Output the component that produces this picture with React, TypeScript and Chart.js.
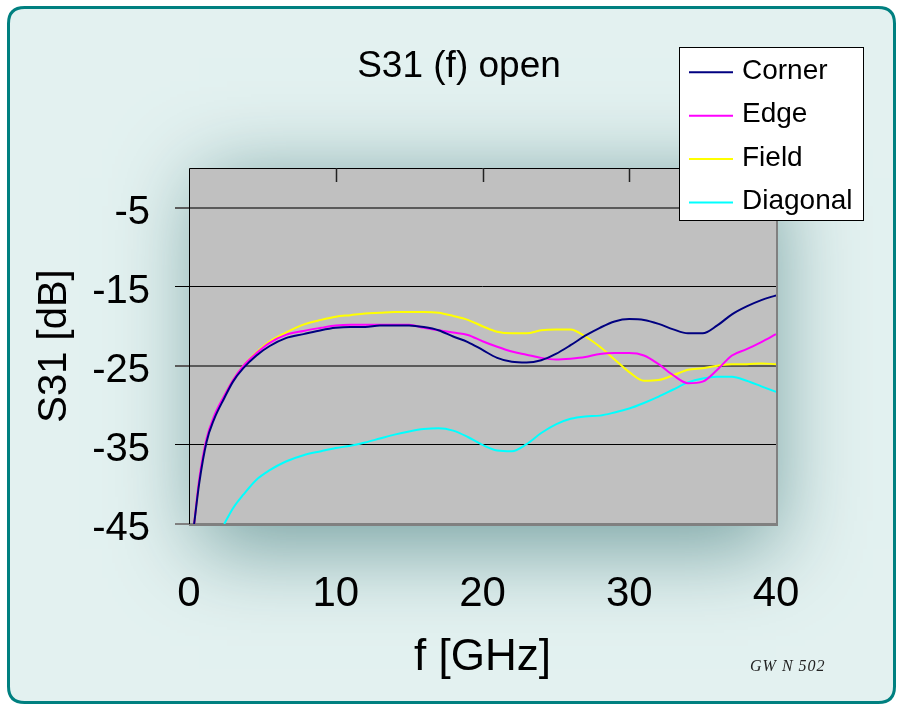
import React, { useEffect, useRef } from 'react';
import { Chart, registerables } from 'chart.js';

Chart.register(...registerables);

// ---- data ----
const freqs = [0.35, 0.7, 1.2, 1.7, 2.4, 3, 3.7, 4.6, 5.5, 6.6, 7.8, 9, 10, 11, 12, 13, 14, 15, 16, 17, 18, 19, 20, 21, 22, 23, 24, 25, 26, 27, 28, 29, 30, 31, 32, 33, 34, 35, 36, 37, 38, 39, 40];

const corner = [-45, -39.8, -34.6, -31.8, -29.1, -27.0, -25.3, -23.7, -22.5, -21.5, -21.0, -20.5,
  -20.2, -20.1, -20.1, -19.9, -19.9, -19.9, -20.1, -20.5, -21.3, -22.0, -23.0, -24.0, -24.5, -24.6, -24.3, -23.5, -22.4, -21.2, -20.2, -19.4, -19.1, -19.2, -19.7, -20.4, -20.9, -20.9, -19.9, -18.5, -17.5, -16.7, -16.1];

const edge = [-45, -39.3, -34.2, -31.4, -28.8, -26.8, -25.0, -23.4, -22.1, -21.1, -20.6, -20.2,
  -19.9, -19.8, -19.8, -19.8, -19.8, -19.8, -20.2, -20.5, -20.8, -21.1, -21.9, -22.6, -23.2, -23.6, -24.0, -24.2, -24.1, -23.9, -23.5, -23.4, -23.4, -23.7, -24.8, -26.2, -27.2, -27.0, -25.5, -23.7, -22.9, -22.0, -21.0];

const field = [-45, -39.5, -34.3, -31.5, -28.8, -26.8, -25.0, -23.3, -21.9, -20.8, -19.8, -19.2,
  -18.8, -18.6, -18.4, -18.3, -18.2, -18.2, -18.2, -18.3, -18.7, -19.2, -20.0, -20.7, -20.9, -20.9, -20.5, -20.4, -20.4, -21.3, -22.6, -24.2, -25.8, -26.9, -26.8, -26.2, -25.5, -25.3, -25.0, -24.8, -24.8, -24.7, -24.8];

const diagonal = [null, null, null, null, -45, -43.0, -41.3, -39.4, -38.2, -37.1, -36.3, -35.8,
  -35.4, -35.1, -34.7, -34.2, -33.7, -33.3, -33.0, -32.9, -33.2, -34.0, -35.0, -35.7, -35.8, -34.9, -33.5, -32.4, -31.7, -31.4, -31.3, -30.9, -30.4, -29.7, -28.9, -28.0, -27.1, -26.6, -26.4, -26.4, -26.9, -27.6, -28.3];

const seriesLabels = ['Corner', 'Edge', 'Field', 'Diagonal'];
const seriesColors = ['#000080', '#FF00FF', '#FFFF00', '#00FFFF'];
const seriesValues = [corner, edge, field, diagonal];

const yTicks = [-45, -35, -25, -15, -5];
const xTicks = [0, 10, 20, 30, 40];
const topTickMarks = [10, 20, 30];

const chartTitle = 'S31 (f) open';
const xTitle = 'f [GHz]';
const yTitle = 'S31 [dB]';
const footnote = 'GW N 502';

const SANS = '"Liberation Sans", Arial, sans-serif';

function roundRectPath(c: CanvasRenderingContext2D, x: number, y: number, w: number, h: number, r: number) {
  c.beginPath();
  c.moveTo(x + r, y);
  c.lineTo(x + w - r, y);
  c.quadraticCurveTo(x + w, y, x + w, y + r);
  c.lineTo(x + w, y + h - r);
  c.quadraticCurveTo(x + w, y + h, x + w - r, y + h);
  c.lineTo(x + r, y + h);
  c.quadraticCurveTo(x, y + h, x, y + h - r);
  c.lineTo(x, y + r);
  c.quadraticCurveTo(x, y, x + r, y);
  c.closePath();
}

const decorPlugin = {
  id: 'decor',
  beforeDraw(chart: any) {
    const c: CanvasRenderingContext2D = chart.ctx;
    const { left, top, right, bottom } = chart.chartArea;
    c.save();
    c.fillStyle = '#ffffff';
    c.fillRect(0, 0, chart.width, chart.height);
    roundRectPath(c, 8.5, 7.5, 886, 695, 16);
    c.fillStyle = '#e3f1f0';
    c.fill();
    c.clip();
    // soft glow behind the plot area (shadow only, shape drawn off-canvas)
    const off = 5000;
    c.shadowColor = 'rgb(120,162,162)';
    c.shadowBlur = 80;
    c.shadowOffsetX = off;
    c.shadowOffsetY = 0;
    c.fillStyle = 'rgb(120,162,162)';
    c.fillRect(left + 10 - off, top + 10, right - left - 10, bottom - top + 15);
    c.restore();

    c.save();
    roundRectPath(c, 8.5, 7.5, 886, 695, 16);
    c.strokeStyle = '#008080';
    c.lineWidth = 3;
    c.stroke();
    c.restore();

    c.save();
    c.fillStyle = '#c0c0c0';
    c.fillRect(left, top, right - left, bottom - top);
    c.restore();
  },
  afterDatasetsDraw(chart: any) {
    const c: CanvasRenderingContext2D = chart.ctx;
    const { left, top, right, bottom } = chart.chartArea;
    const xs = chart.scales.x;
    c.save();
    c.strokeStyle = '#808080';
    c.lineWidth = 2;
    c.beginPath();
    c.moveTo(right + 1, top);
    c.lineTo(right + 1, bottom + 1);
    c.lineTo(left, bottom + 1);
    c.stroke();
    c.strokeStyle = '#000000';
    c.lineWidth = 1;
    c.beginPath();
    c.moveTo(left + 0.5, bottom);
    c.lineTo(left + 0.5, top + 0.5);
    c.lineTo(right, top + 0.5);
    c.stroke();
    c.strokeStyle = '#222222';
    c.lineWidth = 1.5;
    topTickMarks.forEach((v) => {
      const px = Math.round(xs.getPixelForValue(v)) + 0.5;
      c.beginPath();
      c.moveTo(px, top);
      c.lineTo(px, top + 14);
      c.stroke();
    });
    c.restore();
  },
  afterDraw(chart: any) {
    const c: CanvasRenderingContext2D = chart.ctx;
    c.save();
    // title
    c.fillStyle = '#000';
    c.font = `37px ${SANS}`;
    c.textAlign = 'center';
    c.textBaseline = 'alphabetic';
    c.fillText(chartTitle, 459, 77);

    // footnote
    c.font = 'italic 16px "Liberation Serif", "DejaVu Serif", serif';
    c.textAlign = 'left';
    c.fillStyle = '#222';
    (c as any).letterSpacing = '1px';
    c.fillText(footnote, 750, 671);
    (c as any).letterSpacing = '0px';

    // legend
    const lx = 679.5, ly = 47.5, lw = 184, lh = 173;
    c.fillStyle = '#ffffff';
    c.fillRect(lx, ly, lw, lh);
    c.strokeStyle = '#000';
    c.lineWidth = 1;
    c.strokeRect(lx, ly, lw, lh);
    chart.data.datasets.forEach((ds: any, i: number) => {
      const y = 72.3 + i * 43.4;
      c.strokeStyle = ds.borderColor;
      c.lineWidth = 2;
      c.beginPath();
      c.moveTo(689, y);
      c.lineTo(733, y);
      c.stroke();
      c.fillStyle = '#000';
      c.font = `28px ${SANS}`;
      c.textAlign = 'left';
      c.textBaseline = 'middle';
      c.fillText(ds.label, 742, y - 1);
    });
    c.restore();
  },
};

function gridColor(ctx: any) {
  const v = ctx.tick ? ctx.tick.value : null;
  if (v === -45) return '#808080';
  if (v === -5 || v === -25) return '#5a5a5a';
  return '#000000';
}
function gridWidth(ctx: any) {
  const v = ctx.tick ? ctx.tick.value : null;
  if (v === -45 || v === -5 || v === -25) return 2;
  return 1;
}

export default function App() {
  const ref = useRef<HTMLCanvasElement>(null);
  useEffect(() => {
    document.body.style.margin = '0';
    const canvas = ref.current;
    if (!canvas) return;
    const chart = new Chart(canvas, {
      type: 'line',
      data: {
        datasets: seriesLabels.map((label, si) => ({
          label,
          data: freqs.map((f, i) => ({ x: f, y: seriesValues[si][i] })),
          borderColor: seriesColors[si],
          backgroundColor: seriesColors[si],
          borderWidth: 2,
          pointRadius: 0,
          fill: false,
          cubicInterpolationMode: 'monotone' as const,
          spanGaps: false,
        })),
      },
      plugins: [decorPlugin],
      options: {
        animation: false,
        responsive: false,
        devicePixelRatio: 1,
        layout: { padding: { left: 0, top: 168, right: 121, bottom: 0 } },
        plugins: {
          legend: { display: false },
          title: { display: false },
          tooltip: { enabled: false },
        },
        scales: {
          x: {
            type: 'linear',
            min: 0,
            max: 40,
            afterBuildTicks: (scale: any) => {
              scale.ticks = xTicks.map((v) => ({ value: v }));
            },
            afterFit: (scale: any) => {
              scale.height = 181;
            },
            grid: { display: false, drawTicks: false },
            border: { display: false },
            ticks: {
              padding: 45,
              color: '#000',
              font: { family: SANS, size: 42 },
              maxRotation: 0,
              autoSkip: false,
            },
            title: {
              display: true,
              text: xTitle,
              color: '#000',
              font: { family: SANS, size: 44 },
              padding: { top: 0, bottom: 21 },
            },
          },
          y: {
            type: 'linear',
            min: -45,
            max: 0,
            afterBuildTicks: (scale: any) => {
              scale.ticks = yTicks.map((v) => ({ value: v }));
            },
            afterFit: (scale: any) => {
              scale.width = 189;
            },
            grid: {
              color: gridColor,
              tickColor: gridColor,
              lineWidth: gridWidth,
              drawTicks: true,
              tickLength: 14,
            },
            border: { display: false },
            ticks: {
              padding: 25,
              labelOffset: 5,
              color: '#000',
              font: { family: SANS, size: 40 },
              autoSkip: false,
            },
            title: {
              display: true,
              text: yTitle,
              color: '#000',
              font: { family: SANS, size: 40 },
              padding: { top: 31, bottom: 0 },
            },
          },
        },
      },
    });
    return () => chart.destroy();
  }, []);

  return (
    <div style={{ position: 'absolute', left: 0, top: 0, width: 897, height: 705 }}>
      <canvas ref={ref} width={897} height={705} style={{ width: 897, height: 705, display: 'block' }} />
    </div>
  );
}
